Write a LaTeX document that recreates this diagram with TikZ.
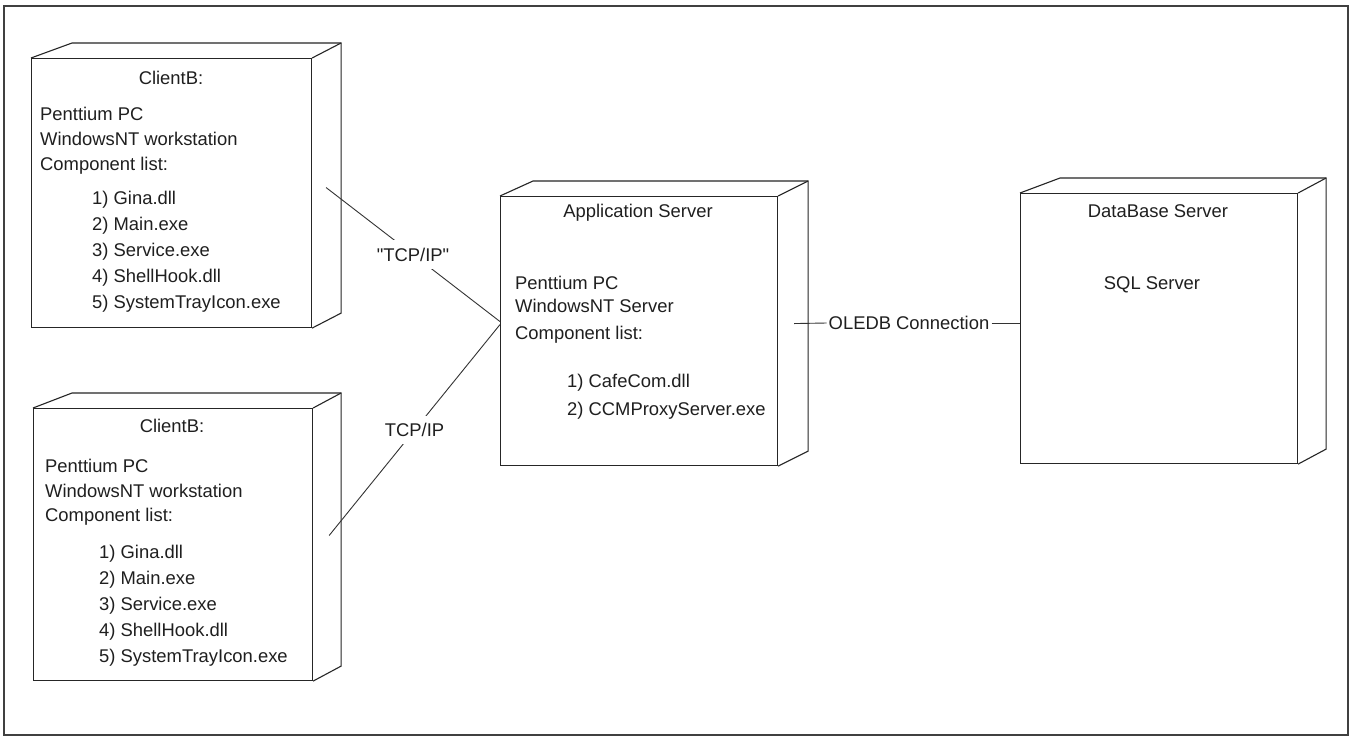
\documentclass[tikz,border=0pt]{standalone}
\usepackage{fontspec}
\setmainfont{Liberation Sans}
\usetikzlibrary{calc}
\newcommand\sqq{\XeTeXglyph\XeTeXglyphindex "quotedbl"\relax}
\tikzset{
  boxline/.style={draw=black!85, line width=1.1pt, line join=miter},
  frontface/.style={boxline, rectangle, inner sep=0pt, anchor=north west},
  txt/.style={inner sep=0pt, font=\fontsize{18.4}{22}\selectfont, text=black!88},
  conn/.style={draw=black!80, line width=0.9pt},
  lbl/.style={txt, fill=white, inner xsep=2pt, inner ysep=7.5pt},
  olbl/.style={txt, inner xsep=2pt, inner ysep=2pt},
}
\newcommand\drawcube[3]{%
  \draw[boxline] (#1.north west) -- ++(#2,-15) -| ($(#1.south east)+(#3,-15)$) -- (#1.south east);
  \draw[boxline] (#1.north east) -- ++(#3,-15);
}
\begin{document}
\begin{tikzpicture}[x=1pt,y=-1pt]
\useasboundingbox (0,0) rectangle (1356,737);
\fill[white] (0,0) rectangle (1356,737);
% outer frame
\draw[line width=1.4pt, black!75] (4,6) rectangle (1348,735);

% boxes (front faces)
\node[frontface, minimum width=280, minimum height=269] (c1) at (31,58) {};
\node[frontface, minimum width=279, minimum height=272] (c2) at (33,408) {};
\node[frontface, minimum width=277, minimum height=269] (app) at (500,196) {};
\node[frontface, minimum width=277, minimum height=270] (db) at (1020,193) {};
\drawcube{c1}{41}{29}
\drawcube{c2}{39}{28}
\drawcube{app}{33}{30}
\drawcube{db}{40}{28}

% Client 1 texts
\node[txt, anchor=base] (c1t0) at (171,84) {ClientB:};
\node[txt, anchor=base west] (c1t1) at (40,120) {Penttium PC};
\node[txt, anchor=base west] (c1t2) at (40,145) {WindowsNT workstation};
\node[txt, anchor=base west] (c1t3) at (40,170) {Component list:};
\node[txt, anchor=base west] (c1t4) at (92,204) {1) Gina.dll};
\node[txt, anchor=base west] (c1t5) at (92,230) {2) Main.exe};
\node[txt, anchor=base west] (c1t6) at (92,256) {3) Service.exe};
\node[txt, anchor=base west] (c1t7) at (92,282) {4) ShellHook.dll};
\node[txt, anchor=base west] (c1t8) at (92,308) {5) SystemTrayIcon.exe};

% Client 2 texts
\node[txt, anchor=base] (c2t0) at (172,432) {ClientB:};
\node[txt, anchor=base west] (c2t1) at (45,472) {Penttium PC};
\node[txt, anchor=base west] (c2t2) at (45,497) {WindowsNT workstation};
\node[txt, anchor=base west] (c2t3) at (45,521) {Component list:};
\node[txt, anchor=base west] (c2t4) at (99,558) {1) Gina.dll};
\node[txt, anchor=base west] (c2t5) at (99,584) {2) Main.exe};
\node[txt, anchor=base west] (c2t6) at (99,610) {3) Service.exe};
\node[txt, anchor=base west] (c2t7) at (99,636) {4) ShellHook.dll};
\node[txt, anchor=base west] (c2t8) at (99,662) {5) SystemTrayIcon.exe};

% Application server texts
\node[txt, anchor=base] (at0) at (638,217) {Application Server};
\node[txt, anchor=base west] (at1) at (515,289) {Penttium PC};
\node[txt, anchor=base west] (at2) at (515,312) {WindowsNT Server};
\node[txt, anchor=base west] (at3) at (515,339) {Component list:};
\node[txt, anchor=base west] (at4) at (567,387) {1) CafeCom.dll};
\node[txt, anchor=base west] (at5) at (567,415) {2) CCMProxyServer.exe};

% Database server texts
\node[txt, anchor=base] (dt0) at (1158,217) {DataBase Server};
\node[txt, anchor=base] (dt1) at (1152,289) {SQL Server};

% connectors
\coordinate (c1p) at ($(c1.east)+(14,-5.5)$);
\coordinate (c2p) at ($(c2.east)+(16,-9)$);
\coordinate (appin1) at ($(app.west)+(0,-9.5)$);
\coordinate (appin2) at ($(app.west)+(0,-6.5)$);
\draw[conn] (c1p) -- node[lbl, pos=0.5] (tcp1) {\sqq TCP/IP\sqq} (appin1);
\draw[conn] (c2p) -- node[lbl, pos=0.5] (tcp2) {TCP/IP} (appin2);

\node[olbl] (ole) at (909,323) {OLEDB Connection};
\draw[conn] ($(app.east)+(16,-7.5)$) -- (ole.west);
\draw[conn] (ole.east) -- (db.west |- ole.east);
\end{tikzpicture}
\end{document}
